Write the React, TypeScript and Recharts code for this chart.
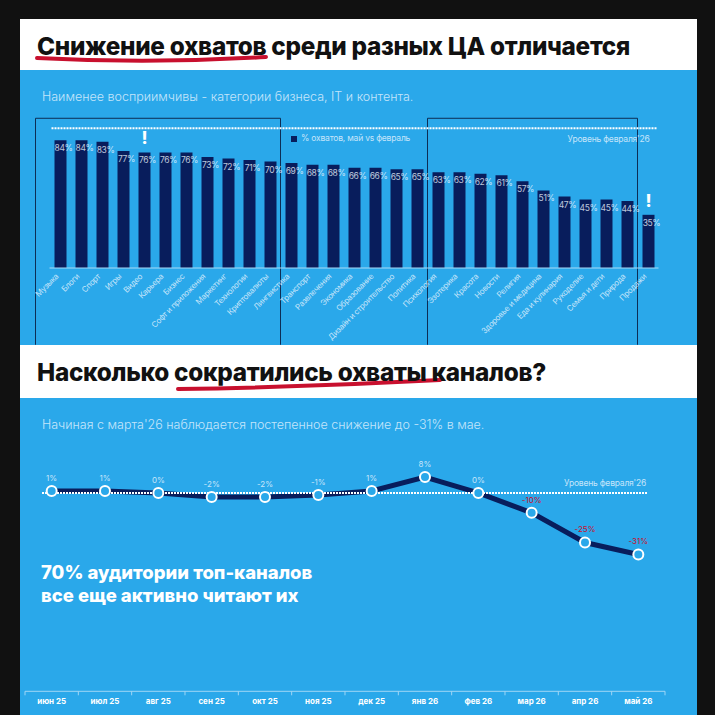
import React from 'react';
import {
  BarChart, Bar, LineChart, Line, XAxis, YAxis, LabelList, ReferenceLine, ReferenceArea, Legend,
} from 'recharts';

// ---- data ----
const categories = [
  'Музыка', 'Блоги', 'Спорт', 'Игры', 'Видео', 'Карьера', 'Бизнес', 'Софт и приложения',
  'Маркетинг', 'Технологии', 'Криптовалюты', 'Лингвистика', 'Транспорт', 'Развлечения',
  'Экономика', 'Образование', 'Дизайн и строительство', 'Политика', 'Психология', 'Эзотерика',
  'Красота', 'Новости', 'Религия', 'Здоровье и медицина', 'Еда и кулинария', 'Рукоделие',
  'Семья и дети', 'Природа', 'Продажи',
];
const reach = [84, 84, 83, 77, 76, 76, 76, 73, 72, 71, 70, 69, 68, 68, 66, 66, 65, 65, 63, 63, 62, 61, 57, 51, 47, 45, 45, 44, 35];
const flagged = ['Видео', 'Продажи'];
const febLevel = 92;

const months = ['июн 25', 'июл 25', 'авг 25', 'сен 25', 'окт 25', 'ноя 25', 'дек 25', 'янв 26', 'фев 26', 'мар 26', 'апр 26', 'май 26'];
const change = [1, 1, 0, -2, -2, -1, 1, 8, 0, -10, -25, -31];
const alertBelow = -5;

const barData = categories.map((name, i) => ({ name, reach: reach[i] }));
const lineData = months.map((month, i) => ({ month, change: change[i] }));

const BLUE = '#2aa8ea';
const NAVY = '#081d5c';
const PALE = 'rgba(236,246,255,0.8)';
const RED = '#c8102e';
const FONT = 'Inter, "Noto Sans", sans-serif';

function BarValue(props: any) {
  const { x, y, width, value, index } = props;
  const cx = x + width / 2;
  return (
    <g>
      <text x={cx + 3} y={y + 8} dy="0.35em" textAnchor="middle" fontSize={8.5} letterSpacing={-0.4} fill={PALE} fontFamily={FONT}>{value}%</text>
      {flagged.includes(categories[index]) && (
        <text x={cx} y={y - 14} dy="0.35em" textAnchor="middle" fontSize={17} fontWeight={800} fill="#fff" fontFamily={FONT}>!</text>
      )}
    </g>
  );
}

function CategoryTick({ x, y, payload }: any) {
  return (
    <text transform={`translate(${x - 1},${y + 9}) rotate(-45)`} textAnchor="end" fontSize={8} letterSpacing={-0.3} fill={PALE} fontFamily={FONT}>
      {payload.value}
    </text>
  );
}

function MonthTick({ x, y, payload, index }: any) {
  const half = 26.67;
  return (
    <g>
      <line x1={x - half} x2={x - half} y1={y} y2={y + 4} stroke="#9fd6f6" />
      {index === months.length - 1 && <line x1={x + half} x2={x + half} y1={y} y2={y + 4} stroke="#9fd6f6" />}
      <text x={x} y={y + 10} dy="0.35em" textAnchor="middle" fontSize={8} fontWeight={700} fill="#fff" fontFamily={FONT}>
        {payload.value}
      </text>
    </g>
  );
}

function ChangeLabel({ x, y, value }: any) {
  return (
    <text x={x} y={y - 13} dy="0.35em" textAnchor="middle" fontSize={8} fill={value < alertBelow ? RED : PALE} fontFamily={FONT}>
      {value}%
    </text>
  );
}

const levelLabel = (dy: number, inset: number) => ({ viewBox }: any) => (
  <text x={viewBox.x + viewBox.width - inset} y={viewBox.y + dy} dy="0.35em" textAnchor="end" fontSize={8.5} letterSpacing={-0.2} fill={PALE} fontFamily={FONT}>
    Уровень февраля'26
  </text>
);

const insetLine = (inset: number) => (p: any) => (
  <line x1={p.x1 + inset} y1={p.y1} x2={p.x2 - inset} y2={p.y2} stroke="#fff" strokeWidth={2} strokeDasharray="2 1" />
);

const openBox = (padLeft: number) => (p: any) => (
  <path
    d={`M${p.x - padLeft},${p.y + p.height} V${p.y} H${p.x + p.width} V${p.y + p.height}`}
    fill="none" stroke="#0c2d55" strokeWidth={1}
  />
);

export default function App() {
  return (
    <div style={{ position: 'absolute', left: 0, top: 0, width: 715, height: 715, background: '#111', overflow: 'hidden', fontFamily: FONT }}>
      <div style={{ position: 'absolute', left: 20, top: 19, width: 677, height: 51, background: '#fff' }} />
      <div style={{ position: 'absolute', left: 20, top: 70, width: 677, height: 275, background: BLUE }} />
      <div style={{ position: 'absolute', left: 20, top: 345, width: 677, height: 53, background: '#fff' }} />
      <div style={{ position: 'absolute', left: 20, top: 398, width: 677, height: 317, background: BLUE }} />

      <div style={{ position: 'absolute', left: 37, top: 31, fontSize: 24.3, fontWeight: 800, color: '#111', whiteSpace: 'nowrap', letterSpacing: -0.3 }}>
        Снижение охватов среди разных ЦА отличается
      </div>
      <svg style={{ position: 'absolute', left: 0, top: 0 }} width={715} height={400}>
        <path d="M37,58 Q150,64 266,57" stroke={RED} strokeWidth={4} fill="none" strokeLinecap="round" />
        <path d="M178,389 Q310,387 440,380" stroke={RED} strokeWidth={4} fill="none" strokeLinecap="round" />
      </svg>
      <div style={{ position: 'absolute', left: 42, top: 89, fontSize: 12.5, fontWeight: 300, color: PALE, whiteSpace: 'nowrap' }}>
        Наименее восприимчивы - категории бизнеса, IT и контента.
      </div>

      <div style={{ position: 'absolute', left: 0, top: 0 }}>
        <BarChart width={715} height={345} data={barData} margin={{ top: 116, right: 56.5, bottom: 0, left: 49.5 }}>
          <XAxis dataKey="name" interval={0} height={77} tickSize={0} tickMargin={0} tickLine={false} axisLine={{ stroke: '#a6dbf8' }} tick={<CategoryTick />} />
          <YAxis hide domain={[0, 100]} />
          <ReferenceArea x1="Музыка" x2="Криптовалюты" y1={-50.5} y2={98.5} ifOverflow="visible" shape={openBox(14)} />
          <ReferenceArea x1="Психология" x2="Природа" y1={-50.5} y2={98.5} ifOverflow="visible" shape={openBox(0)} />
          <ReferenceLine y={febLevel} shape={insetLine(2)} label={levelLabel(11, 9)} />
          <Legend
            verticalAlign="middle" align="center" layout="horizontal" iconType="square" iconSize={6}
            wrapperStyle={{ top: 133, left: 291, width: 'auto', fontSize: 8.5, letterSpacing: -0.2 }}
            formatter={(v: string) => <span style={{ color: PALE }}>{v}</span>}
          />
          <Bar dataKey="reach" name="% охватов, май vs февраль" fill={NAVY} barSize={12} isAnimationActive={false}>
            <LabelList dataKey="reach" content={<BarValue />} />
          </Bar>
        </BarChart>
      </div>

      <div style={{ position: 'absolute', left: 37, top: 357, fontSize: 24.3, fontWeight: 800, color: '#111', whiteSpace: 'nowrap', letterSpacing: -0.3 }}>
        Насколько сократились охваты каналов?
      </div>
      <div style={{ position: 'absolute', left: 42, top: 417, fontSize: 12.5, fontWeight: 300, color: PALE, whiteSpace: 'nowrap' }}>
        Начиная с марта'26 наблюдается постепенное снижение до -31% в мае.
      </div>

      <div style={{ position: 'absolute', left: 0, top: 400 }}>
        <LineChart width={715} height={315} data={lineData} margin={{ top: 53.3, right: 50, bottom: 0, left: 25 }}>
          <XAxis dataKey="month" interval={0} padding={{ left: 26.67, right: 26.67 }} height={23.7} tickSize={0} tickMargin={0} tickLine={false} axisLine={{ stroke: '#9fd6f6' }} tick={<MonthTick />} />
          <YAxis hide domain={[-100, 20]} />
          <Line dataKey="change" stroke={NAVY} strokeWidth={5} dot={{ r: 5, fill: BLUE, stroke: '#fff', strokeWidth: 2 }} isAnimationActive={false}>
            <LabelList dataKey="change" content={<ChangeLabel />} />
          </Line>
          <ReferenceLine y={0} shape={insetLine(17)} label={levelLabel(-10, 19)} />
        </LineChart>
      </div>

      <div style={{ position: 'absolute', left: 41, top: 561, fontSize: 18.5, fontWeight: 800, color: '#fff', lineHeight: '23px', whiteSpace: 'nowrap' }}>
        70% аудитории топ-каналов<br />все еще активно читают их
      </div>
    </div>
  );
}
